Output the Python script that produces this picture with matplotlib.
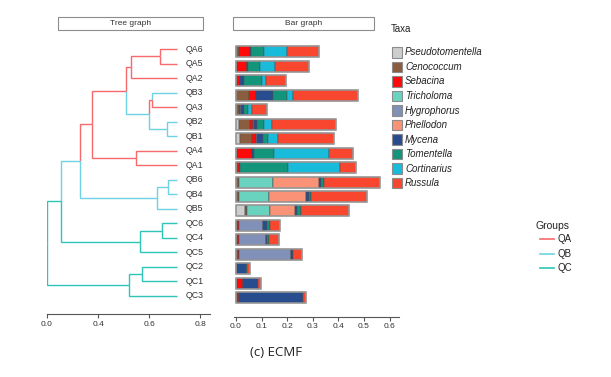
import numpy as np
import matplotlib.pyplot as plt
from matplotlib.patches import Rectangle

plt.rcParams['font.family'] = ['Liberation Sans', 'DejaVu Sans']

# === data ===============================

samples = ['QA6', 'QA5', 'QA2', 'QB3', 'QA3', 'QB2', 'QB1', 'QA4', 'QA1',
           'QB6', 'QB4', 'QB5', 'QC6', 'QC4', 'QC5', 'QC2', 'QC1', 'QC3']

taxa = ['Pseudotomentella', 'Cenococcum', 'Sebacina', 'Tricholoma', 'Hygrophorus',
        'Phellodon', 'Mycena', 'Tomentella', 'Cortinarius', 'Russula']
taxa_colors = ['#CDCDCD', '#8A5D3F', '#FF0A0A', '#6AD3C0', '#8090B8',
               '#FA9278', '#284D8E', '#13957C', '#19BBDB', '#F9472F']

pseudotomentella = [0, 0, 0, 0, 0, 0.013, 0.016, 0, 0, 0, 0, 0.036, 0, 0, 0, 0, 0, 0]
cenococcum = [0.013, 0.002, 0.005, 0.049, 0.010, 0.043, 0.047, 0.002, 0.007,
              0.010, 0.010, 0.006, 0.003, 0.003, 0.009, 0.003, 0.002, 0.002]
sebacina = [0.042, 0.042, 0.009, 0.029, 0.007, 0.009, 0.013, 0.059, 0.009,
            0.002, 0.001, 0.001, 0.007, 0.007, 0.001, 0.001, 0.024, 0.008]
tricholoma = [0, 0, 0, 0, 0, 0, 0, 0, 0, 0.133, 0.116, 0.088, 0, 0, 0, 0, 0, 0]
hygrophorus = [0, 0, 0, 0, 0.003, 0.004, 0.004, 0, 0, 0, 0, 0, 0.095, 0.106, 0.203, 0, 0, 0]
phellodon = [0, 0, 0, 0, 0, 0, 0, 0, 0, 0.180, 0.147, 0.098, 0, 0, 0, 0, 0, 0]
mycena = [0.005, 0.001, 0.018, 0.065, 0.010, 0.014, 0.025, 0.009, 0.001,
          0.008, 0.010, 0.010, 0.017, 0.005, 0.009, 0.033, 0.059, 0.251]
tomentella = [0.049, 0.047, 0.071, 0.055, 0.017, 0.025, 0.019, 0.079, 0.187,
              0.011, 0.009, 0.013, 0.009, 0.008, 0.002, 0.006, 0.001, 0.001]
cortinarius = [0.089, 0.062, 0.013, 0.023, 0.016, 0.031, 0.039, 0.215, 0.203,
               0.001, 0.001, 0.001, 0, 0, 0, 0, 0, 0]
russula = [0.128, 0.132, 0.078, 0.257, 0.058, 0.250, 0.221, 0.094, 0.060,
           0.216, 0.218, 0.188, 0.042, 0.039, 0.034, 0.010, 0.010, 0.010]

abund = [pseudotomentella, cenococcum, sebacina, tricholoma, hygrophorus,
         phellodon, mycena, tomentella, cortinarius, russula]

# tree: node -> (child1, child2, position from root)
leaf_pos = 0.510
tree = {
    'n1': ('QA6', 'QA5', 0.443),
    'n2': ('n1', 'QA2', 0.329),
    'n3': ('QB3', 'QA3', 0.411),
    'n4': ('QB2', 'QB1', 0.472),
    'n5': ('n3', 'n4', 0.400),
    'n6': ('n2', 'n5', 0.310),
    'n7': ('QA4', 'QA1', 0.349),
    'n8': ('n6', 'n7', 0.175),
    'n9': ('QB6', 'QB4', 0.476),
    'n10': ('n9', 'QB5', 0.430),
    'n11': ('n8', 'n10', 0.129),
    'n12': ('QC6', 'QC4', 0.450),
    'n13': ('n12', 'QC5', 0.365),
    'n14': ('n11', 'n13', 0.055),
    'n15': ('QC2', 'QC1', 0.371),
    'n16': ('n15', 'QC3', 0.323),
    'root': ('n14', 'n16', 0.0),
}
node_group = {'n1': 'QA', 'n2': 'QA', 'n3': 'QA', 'n4': 'QB', 'n5': 'QB', 'n6': 'QA',
              'n7': 'QA', 'n8': 'QA', 'n9': 'QB', 'n10': 'QB', 'n11': 'QB',
              'n12': 'QC', 'n13': 'QC', 'n14': 'QC', 'n15': 'QC', 'n16': 'QC'}
groups = ['QA', 'QB', 'QC']
group_colors = {'QA': '#F8696B', 'QB': '#6DD2E4', 'QC': '#2CC5B6'}

# === figure ===============================

W, H = 611, 377
fig = plt.figure(figsize=(W / 100, H / 100), dpi=100)


def px_axes(left, top, right, bottom):
    return fig.add_axes([left / W, 1 - bottom / H, (right - left) / W, (bottom - top) / H])


def fx(x):
    return x / W


def fy(y):
    return 1 - y / H


axis_grey = '#555555'


def style_axis(ax):
    for s in ['top', 'right', 'left']:
        ax.spines[s].set_visible(False)
    ax.spines['bottom'].set_color(axis_grey)
    ax.spines['bottom'].set_linewidth(0.8)
    ax.set_yticks([])
    ax.tick_params(axis='x', colors=axis_grey, labelsize=6, length=3, width=0.8, pad=2,
                   labelcolor='#333333')
    ax.set_facecolor('none')


# --- tree ---
ax_t = px_axes(47, 40, 210, 314)
n = len(samples)
ypos = {s: i for i, s in enumerate(samples)}
xpos = {s: leaf_pos for s in samples}


def place(node):
    if node in ypos:
        return ypos[node]
    c1, c2, h = tree[node]
    ypos[node] = (place(c1) + place(c2)) / 2
    xpos[node] = h
    return ypos[node]


place('root')


def color_of(node):
    if node in samples:
        return group_colors[node[:2]]
    return group_colors[node_group[node]]


for node, (c1, c2, h) in tree.items():
    for c in (c1, c2):
        col = color_of(c)
        ax_t.plot([h, h, xpos[c]], [ypos[node], ypos[c], ypos[c]], color=col, lw=1.0,
                  solid_joinstyle='miter', solid_capstyle='butt')

for s in samples:
    ax_t.text(leaf_pos + 0.035, ypos[s], s, fontsize=6.3, color='#333333',
              va='center', ha='left', clip_on=False)

ax_t.set_xlim(0, 0.639)
ax_t.set_ylim(18.24, -0.62)
ax_t.set_xticks([0, 0.2, 0.4, 0.6])
ax_t.set_xticklabels(['0.0', '0.4', '0.6', '0.8'])
style_axis(ax_t)

# --- bars ---
ax_b = px_axes(234, 40, 398.6, 316.5)
idx = np.arange(n)
left = np.zeros(n)
for vals, col in zip(abund, taxa_colors):
    vals = np.array(vals)
    ax_b.barh(idx, vals, height=0.76, left=left, color=col,
              edgecolor='#4d4d4d', linewidth=0.35)
    left += vals
ax_b.barh(idx, left, height=0.76, fill=False, edgecolor='#9a9a9a', linewidth=1.1)

ax_b.set_xlim(-0.008, 0.635)
ax_b.set_ylim(18.29, -0.81)
ax_b.set_xticks([0, 0.1, 0.2, 0.3, 0.4, 0.5, 0.6])
ax_b.set_xticklabels(['0.0', '0.1', '0.2', '0.3', '0.4', '0.5', '0.6'])
style_axis(ax_b)

# --- header boxes ---
for (x0, x1, label) in [(58, 203, 'Tree graph'), (233, 374, 'Bar graph')]:
    fig.patches.append(Rectangle((fx(x0), fy(30)), (x1 - x0) / W, 13 / H,
                                 transform=fig.transFigure, fill=False,
                                 edgecolor='#8c8c8c', linewidth=0.8))
    fig.text(fx((x0 + x1) / 2), fy(23.5), label, fontsize=6, color='#333333',
             ha='center', va='center')

# --- taxa legend ---
fig.text(fx(391), fy(29), 'Taxa', fontsize=7, color='#222222', ha='left', va='center')
for i, (t, col) in enumerate(zip(taxa, taxa_colors)):
    yc = 52.3 + i * 14.55
    fig.patches.append(Rectangle((fx(392), fy(yc + 5.2)), 10.5 / W, 10.5 / H,
                                 transform=fig.transFigure, facecolor=col,
                                 edgecolor='#8c8c8c', linewidth=0.8))
    fig.text(fx(405), fy(yc), t, fontsize=7, style='italic', color='#222222',
             ha='left', va='center')

# --- groups legend ---
fig.text(fx(536), fy(226), 'Groups', fontsize=7.5, color='#222222', ha='left', va='center')
for i, g in enumerate(groups):
    yc = 239 + i * 14.7
    fig.add_artist(plt.Line2D([fx(540), fx(554)], [fy(yc), fy(yc)],
                              transform=fig.transFigure, color=group_colors[g], lw=1.2))
    fig.text(fx(557), fy(yc), g, fontsize=7, color='#222222', ha='left', va='center')

# --- caption ---
fig.text(fx(276), fy(353), '(c) ECMF', fontsize=9.5, family=['Open Sans', 'DejaVu Sans'],
         color='#222222', ha='center', va='center')

fig.savefig('out.png', dpi=100)
